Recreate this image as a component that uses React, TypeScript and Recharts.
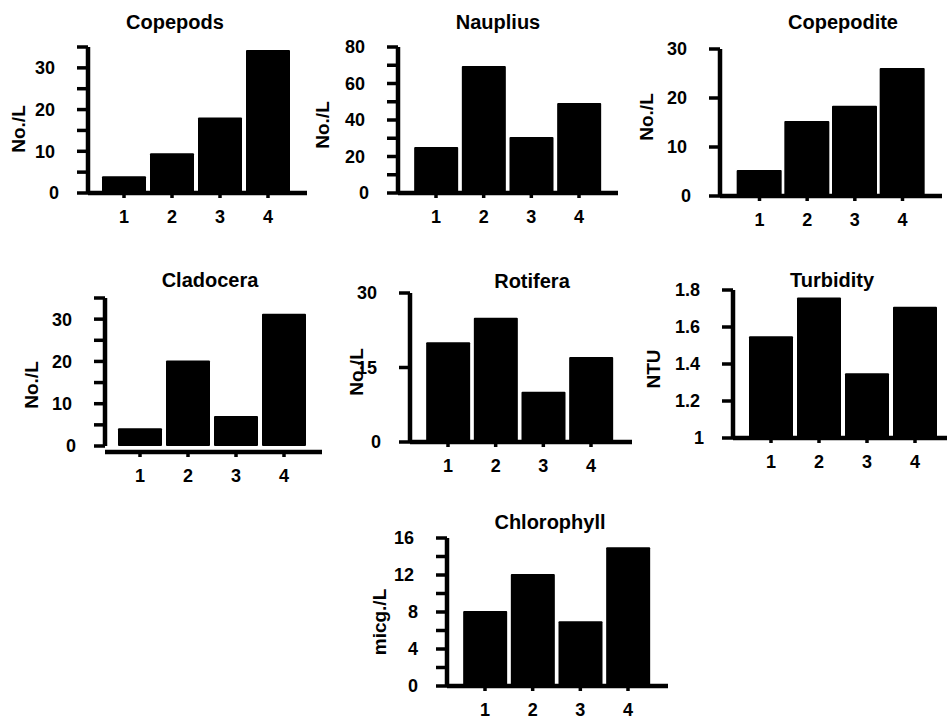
import React from 'react';
import { BarChart, Bar, XAxis, YAxis } from 'recharts';

// ---------- data ----------
const categories = ['1', '2', '3', '4'];

const copepods = [4.0, 9.5, 18.1, 34.3];
const nauplius = [25.2, 69.6, 30.7, 49.3];
const copepodite = [5.3, 15.3, 18.4, 26.1];
const cladocera = [4.2, 20.2, 7.1, 31.3];
const rotifera = [20.1, 25.0, 10.1, 17.1];
const turbidity = [1.55, 1.76, 1.35, 1.71];
const chlorophyll = [8.1, 12.1, 7.0, 15.0];

const copepodsTicks = [0, 5, 10, 15, 20, 25, 30, 35];
const copepodsLabels = [0, 10, 20, 30];
const naupliusTicks = [0, 10, 20, 30, 40, 50, 60, 70, 80];
const naupliusLabels = [0, 20, 40, 60, 80];
const copepoditeTicks = [0, 10, 20, 30];
const copepoditeLabels = [0, 10, 20, 30];
const cladoceraTicks = [0, 5, 10, 15, 20, 25, 30, 35];
const cladoceraLabels = [0, 10, 20, 30];
const rotiferaTicks = [0, 15, 30];
const rotiferaLabels = [0, 15, 30];
const turbidityTicks = [1, 1.2, 1.4, 1.6, 1.8];
const turbidityLabels = [1, 1.2, 1.4, 1.6, 1.8];
const chlorophyllTicks = [0, 2, 4, 6, 8, 10, 12, 14, 16];
const chlorophyllLabels = [0, 4, 8, 12, 16];

const titles = ['Copepods', 'Nauplius', 'Copepodite', 'Cladocera', 'Rotifera', 'Turbidity', 'Chlorophyll'];
const units = ['No./L', 'No./L', 'No./L', 'No./L', 'No./L', 'NTU', 'micg./L'];

// ---------- layout (pixels, separate from data) ----------
type Layout = {
  axisX: number; yTop: number; yZero: number; xAxisY: number; xEnd: number;
  firstBarLeft: number; lastBarLeft: number; barWidth: number;
  titleX: number; titleY: number; labelX: number; labelY: number;
};

const layouts: Layout[] = [
  { axisX: 88, yTop: 47, yZero: 193, xAxisY: 195, xEnd: 307, firstBarLeft: 102, lastBarLeft: 246, barWidth: 44, titleX: 175, titleY: 22, labelX: 19, labelY: 129 },
  { axisX: 398, yTop: 47, yZero: 193, xAxisY: 195, xEnd: 618, firstBarLeft: 414, lastBarLeft: 557, barWidth: 44, titleX: 498, titleY: 22, labelX: 323, labelY: 125 },
  { axisX: 720, yTop: 49, yZero: 196, xAxisY: 198, xEnd: 942, firstBarLeft: 737, lastBarLeft: 880, barWidth: 45, titleX: 843, titleY: 22, labelX: 647, labelY: 117 },
  { axisX: 105, yTop: 298, yZero: 446, xAxisY: 453, xEnd: 322, firstBarLeft: 118, lastBarLeft: 262, barWidth: 44, titleX: 210, titleY: 280, labelX: 32, labelY: 385 },
  { axisX: 410, yTop: 293, yZero: 442, xAxisY: 443, xEnd: 632, firstBarLeft: 426, lastBarLeft: 569, barWidth: 44, titleX: 532, titleY: 281, labelX: 357, labelY: 372 },
  { axisX: 733, yTop: 290, yZero: 438, xAxisY: 441, xEnd: 947, firstBarLeft: 749, lastBarLeft: 893, barWidth: 44, titleX: 832, titleY: 280, labelX: 654, labelY: 369 },
  { axisX: 447, yTop: 538, yZero: 686, xAxisY: 687, xEnd: 668, firstBarLeft: 463, lastBarLeft: 606, barWidth: 44, titleX: 550, titleY: 522, labelX: 380, labelY: 622 },
];

const seriesList = [copepods, nauplius, copepodite, cladocera, rotifera, turbidity, chlorophyll];
const tickList = [copepodsTicks, naupliusTicks, copepoditeTicks, cladoceraTicks, rotiferaTicks, turbidityTicks, chlorophyllTicks];
const labelList = [copepodsLabels, naupliusLabels, copepoditeLabels, cladoceraLabels, rotiferaLabels, turbidityLabels, chlorophyllLabels];

const FONT = '"Liberation Sans", Arial, Helvetica, sans-serif';
const TICK_FS = 18;

function makeYTick(labels: number[]) {
  return (props: any) => {
    const { x, y, payload } = props;
    const v = payload.value;
    const show = labels.some((l) => Math.abs(l - v) < 1e-9);
    if (!show) return <g />;
    const s = String(v);
    return (
      <text x={x + (s.length === 1 ? 4 : 0)} y={y} dy="0.355em" textAnchor="end"
        fontSize={TICK_FS} fontWeight="bold" fontFamily={FONT} fill="#000">{s}</text>
    );
  };
}

function Panel({ idx }: { idx: number }) {
  const L = layouts[idx];
  const values = seriesList[idx];
  const ticks = tickList[idx];
  const labels = labelList[idx];
  const yAxisW = 80;
  const marginTop = 10;
  const left = L.axisX - yAxisW;
  const top = L.yTop - marginTop;
  const gapRaw = L.xAxisY - L.yZero - 1;
  const offset = gapRaw > 2 ? gapRaw : 0;
  const xAxisH = 44;
  const height = L.yZero - top + offset + xAxisH;
  const width = L.xEnd + 1 - left;
  const band = (L.lastBarLeft - L.firstBarLeft) / 3;
  const bandStart = L.firstBarLeft - (band - L.barWidth) / 2;
  const padLeft = bandStart - L.axisX;
  const padRight = L.xEnd - (bandStart + 4 * band);
  const data = categories.map((c, i) => ({ cat: c, v: values[i] }));
  const domain = [ticks[0], ticks[ticks.length - 1]];

  return (
    <>
      <div style={{ position: 'absolute', left, top, width, height }}>
        <BarChart width={width} height={height} data={data}
          margin={{ top: marginTop, right: 1, bottom: 0, left: 0 }}>
          {offset > 0 && (
            <XAxis xAxisId="aspacer" dataKey="cat" height={offset} axisLine={false} tickLine={false} tick={false} />
          )}
          <XAxis xAxisId="main" dataKey="cat" height={xAxisH} padding={{ left: padLeft, right: padRight }}
            stroke="#000" axisLine={{ stroke: '#000', strokeWidth: 4.5 }}
            tickLine={{ stroke: '#000', strokeWidth: 3.5 }} tickSize={5} tickMargin={12}
            interval={0}
            tick={{ fill: '#000', fontSize: TICK_FS, fontWeight: 'bold', fontFamily: FONT }} />
          <YAxis type="number" width={yAxisW} domain={domain} ticks={ticks} interval={0}
            allowDataOverflow stroke="#000"
            axisLine={{ stroke: '#000', strokeWidth: 4.5 }}
            tickLine={{ stroke: '#000', strokeWidth: 3.5 }} tickSize={11} tickMargin={22}
            tick={makeYTick(labels)} />
          <Bar xAxisId="main" dataKey="v" fill="#000" barSize={L.barWidth} radius={1} isAnimationActive={false} />
        </BarChart>
      </div>
      <div style={{
        position: 'absolute', left: L.titleX - 150, top: L.titleY - 12, width: 300, height: 24,
        lineHeight: '24px', textAlign: 'center', fontSize: 20, fontWeight: 'bold', fontFamily: FONT, color: '#000',
      }}>{titles[idx]}</div>
      <div style={{
        position: 'absolute', left: L.labelX, top: L.labelY, transform: 'translate(-50%, -50%) rotate(-90deg)',
        whiteSpace: 'nowrap', fontSize: 19, fontWeight: 'bold', fontFamily: FONT, color: '#000', lineHeight: '22px',
      }}>{units[idx]}</div>
    </>
  );
}

export default function App() {
  return (
    <div style={{ position: 'absolute', left: 0, top: 0, width: 948, height: 719, background: '#fff', overflow: 'hidden' }}>
      {layouts.map((_, i) => <Panel key={i} idx={i} />)}
    </div>
  );
}
